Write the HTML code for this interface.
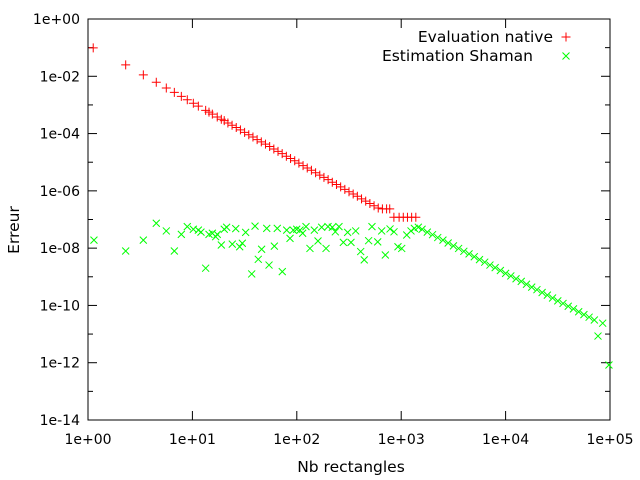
<!DOCTYPE html>
<html><head><meta charset="utf-8"><style>
html,body{margin:0;padding:0;background:#fff;}
svg{display:block;font-family:"DejaVu Sans","Liberation Sans",sans-serif;}
</style></head><body>
<svg id="chart" width="640" height="480" viewBox="0 0 640 480">
<rect x="88" y="19" width="522" height="401" fill="none" stroke="#000" stroke-width="1"/>
<g id="axes"></g>
<g id="series"></g>
<text x="19" y="230" transform="rotate(-90 19 230)" text-anchor="middle" font-size="15.5">Erreur</text>
<text x="351" y="472" text-anchor="middle" font-size="15.5">Nb rectangles</text>
<g>
<text x="553" y="42" text-anchor="end" font-size="15.5">Evaluation native</text>
<text x="533" y="61" text-anchor="end" font-size="15.5">Estimation Shaman</text>
</g>
</svg>
<script>
const xTickExp=[0,1,2,3,4,5];
const yTickExp=[0,-2,-4,-6,-8,-10,-12,-14];
const yMinorExp=[-1,-3,-5,-7,-9,-11,-13];
const redLogN=[0.05,0.361,0.53,0.654,0.75,0.827,0.894,0.951,1.009,1.057,1.127,1.159,1.191,1.238,1.277,1.305,1.34,1.38,1.42,1.46,1.5,1.54,1.58,1.62,1.66,1.7,1.74,1.78,1.82,1.86,1.9,1.94,1.98,2.02,2.06,2.1,2.14,2.18,2.22,2.26,2.3,2.34,2.38,2.42,2.46,2.5,2.54,2.58,2.62,2.66,2.7,2.74,2.78,2.82,2.86,2.89,2.93,2.98,3.02,3.06,3.10,3.14];
const redLogErr=[-1.01,-1.60,-1.95,-2.21,-2.41,-2.56,-2.70,-2.82,-2.94,-3.04,-3.19,-3.25,-3.32,-3.42,-3.50,-3.55,-3.63,-3.71,-3.79,-3.87,-3.96,-4.04,-4.12,-4.21,-4.29,-4.37,-4.45,-4.54,-4.62,-4.70,-4.79,-4.87,-4.95,-5.03,-5.12,-5.20,-5.28,-5.37,-5.45,-5.53,-5.61,-5.70,-5.78,-5.86,-5.95,-6.03,-6.11,-6.19,-6.28,-6.36,-6.44,-6.52,-6.60,-6.63,-6.63,-6.63,-6.92,-6.92,-6.92,-6.92,-6.92,-6.92];
const greenLogN=[0.057,0.361,0.53,0.654,0.75,0.827,0.894,0.951,1.009,1.057,1.082,1.127,1.159,1.191,1.223,1.238,1.277,1.305,1.328,1.382,1.415,1.453,1.478,1.51,1.568,1.6,1.631,1.663,1.712,1.734,1.785,1.813,1.861,1.903,1.935,1.966,1.999,2.031,2.056,2.088,2.126,2.168,2.203,2.238,2.28,2.299,2.34,2.369,2.404,2.446,2.487,2.519,2.564,2.612,2.646,2.688,2.72,2.775,2.813,2.848,2.893,2.931,2.969,3.005,3.053,3.094,3.126,3.164,3.2,3.25,3.3,3.35,3.4,3.45,3.5,3.55,3.6,3.65,3.7,3.75,3.8,3.85,3.9,3.95,4.0,4.05,4.1,4.15,4.2,4.25,4.3,4.35,4.4,4.45,4.5,4.55,4.6,4.65,4.7,4.75,4.8,4.85,4.885,4.93,4.99];
const greenLogErr=[-7.72,-8.10,-7.72,-7.13,-7.40,-8.10,-7.52,-7.25,-7.34,-7.37,-7.44,-8.70,-7.52,-7.48,-7.60,-7.52,-7.89,-7.34,-7.27,-7.86,-7.32,-7.95,-7.83,-7.45,-8.90,-7.23,-8.39,-8.04,-7.31,-8.59,-7.93,-7.31,-8.82,-7.37,-7.66,-7.37,-7.34,-7.37,-7.48,-7.25,-8.01,-7.37,-7.75,-7.27,-8.01,-7.25,-7.27,-7.43,-7.25,-7.80,-7.45,-7.80,-7.40,-8.12,-8.41,-7.74,-7.25,-7.78,-7.40,-8.24,-7.33,-7.43,-7.95,-8.01,-7.54,-7.40,-7.31,-7.27,-7.34,-7.44,-7.53,-7.63,-7.72,-7.82,-7.92,-8.01,-8.11,-8.20,-8.30,-8.40,-8.49,-8.59,-8.68,-8.78,-8.88,-8.97,-9.07,-9.16,-9.26,-9.36,-9.45,-9.55,-9.64,-9.74,-9.84,-9.93,-10.03,-10.12,-10.22,-10.32,-10.41,-10.51,-11.07,-10.62,-12.08];

const NS='http://www.w3.org/2000/svg';
const X0=88,X1=610,Y0=19,Y1=420;
function xs(l){return X0+(l-0)/(5-0)*(X1-X0);}
function ys(l){return Y0+(0-l)/(14)*(Y1-Y0);}
function mk(tag,attrs,parent){const e=document.createElementNS(NS,tag);for(const k in attrs)e.setAttribute(k,attrs[k]);parent.appendChild(e);return e;}
const axes=document.getElementById('axes');
function lbl(e){const s=e<0?'-':'+';const a=Math.abs(e);return '1e'+s+(a<10?'0':'')+a;}
xTickExp.forEach(e=>{
  const x=xs(e);
  const t1=mk('line',{x1:x,y1:Y1,x2:x,y2:Y1-9,stroke:'#000'},axes);
  
  
  const t2=mk('line',{x1:x,y1:Y0,x2:x,y2:Y0+9,stroke:'#000'},axes);
  
  
  const t=mk('text',{x:x,y:444,'text-anchor':'middle','font-size':14},axes);
  t.textContent=lbl(e);
  
  
});
yTickExp.forEach(e=>{
  const y=ys(e);
  const t1=mk('line',{x1:X0,y1:y,x2:X0+9,y2:y,stroke:'#000'},axes);
  
  
  const t2=mk('line',{x1:X1,y1:y,x2:X1-9,y2:y,stroke:'#000'},axes);
  
  
  const t=mk('text',{x:80,y:y+5,'text-anchor':'end','font-size':14},axes);
  t.textContent=lbl(e);
  
  
});
yMinorExp.forEach(e=>{
  const y=ys(e);
  const t1=mk('line',{x1:X0,y1:y,x2:X0+5,y2:y,stroke:'#000'},axes);
  
  
  const t2=mk('line',{x1:X1,y1:y,x2:X1-5,y2:y,stroke:'#000'},axes);
  
  
});
const ser=document.getElementById('series');
function plus(x,y,c,p){return mk('path',{d:`M${x-4.5},${y}H${x+4.5}M${x},${y-4.5}V${y+4.5}`,stroke:c,'stroke-width':1,fill:'none'},p);}
function cross(x,y,c,p){return mk('path',{d:`M${x-3.5},${y-3.5}L${x+3.5},${y+3.5}M${x-3.5},${y+3.5}L${x+3.5},${y-3.5}`,stroke:c,'stroke-width':1,fill:'none'},p);}
const gr=mk('g',{},ser);


redLogN.forEach((l,i)=>{
  const p=plus(xs(l),ys(redLogErr[i]),'#ff0000',gr);
  
  
});
const gg=mk('g',{},ser);


greenLogN.forEach((l,i)=>{
  const p=cross(xs(l),ys(greenLogErr[i]),'#00ff00',gg);
  
  
});
const lm1=plus(566,37,'#ff0000',ser);


const lm2=cross(566,56,'#00ff00',ser);


</script>
</body></html>
